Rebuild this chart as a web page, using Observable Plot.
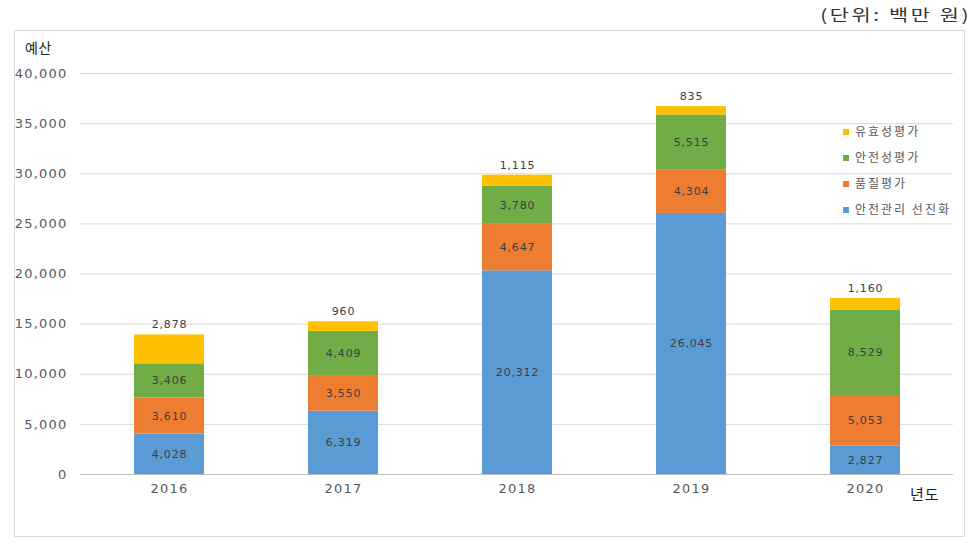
<!DOCTYPE html>
<html>
<head>
<meta charset="utf-8">
<script src="https://cdn.jsdelivr.net/npm/d3@7"></script>
<script src="https://cdn.jsdelivr.net/npm/@observablehq/plot@0.6"></script>
<style>
  body { margin: 0; background: #fff; font-family: "Noto Sans CJK KR", "Noto Sans", sans-serif; }
  #wrap { position: relative; width: 976px; height: 545px; overflow: hidden; }
  #wrap svg { position: absolute; left: 0; top: 0; }
  .box { position: absolute; left: 14px; top: 30px; width: 951px; height: 507px; border: 1px solid #d9d9d9; box-sizing: border-box; }
  .unit { position: absolute; right: 5px; top: 2px; font-size: 16px; letter-spacing: 2px; color: #333; transform: scaleX(1.3); transform-origin: right center; }
  .ylab { position: absolute; left: 25px; top: 37px; font-size: 14px; letter-spacing: 0.5px; color: #222; }
  .xlab { position: absolute; left: 910px; top: 483px; font-size: 15px; letter-spacing: 1px; color: #222; }
  .legend { position: absolute; left: 843px; top: 121px; font-size: 12px; letter-spacing: 2px; color: #595959; }
  .legend div { height: 26px; line-height: 20px; white-space: nowrap; }
  .legend span.sw { display: inline-block; width: 6px; height: 6px; margin-right: 6px; vertical-align: 1px; }
  g[aria-label="y-axis tick label"] text, g[aria-label="x-axis tick label"] text { letter-spacing: 1.2px; }
  .dlab text { letter-spacing: 0.8px; }
</style>
</head>
<body>
<div id="wrap">
  <div class="box"></div>
  <div class="unit">(단위: 백만 원)</div>
  <div class="ylab">예산</div>
  <div class="xlab">년도</div>
  <div class="legend" id="legend"></div>
</div>
<script>
const years = ["2016", "2017", "2018", "2019", "2020"];
const seriesNames = ["안전관리 선진화", "품질평가", "안전성평가", "유효성평가"];
const seriesColors = ["#5B9BD5", "#ED7D31", "#70AD47", "#FFC000"];
const safetyMgmt = [4028, 6319, 20312, 26045, 2827];
const quality = [3610, 3550, 4647, 4304, 5053];
const safety = [3406, 4409, 3780, 5515, 8529];
const efficacy = [2878, 960, 1115, 835, 1160];
const yTicks = [0, 5000, 10000, 15000, 20000, 25000, 30000, 35000, 40000];

const seriesValues = [safetyMgmt, quality, safety, efficacy];
const rows = [];
seriesValues.forEach((vals, s) => {
  years.forEach((yr, i) => rows.push({year: yr, series: seriesNames[s], value: vals[i]}));
});
const totals = years.map((yr, i) => seriesValues.reduce((a, v) => a + v[i], 0));
const fmt = d3.format(",");

const chart = Plot.plot({
  width: 976,
  height: 545,
  marginLeft: 80,
  marginRight: 23,
  marginTop: 73,
  marginBottom: 71,
  style: {fontFamily: "'DejaVu Sans', sans-serif", fontSize: "13px", color: "#595959", background: "transparent"},
  x: {domain: years, paddingInner: 0.6, paddingOuter: 0.3, label: null, tickSize: 0, tickPadding: 9},
  y: {domain: [0, 40000], ticks: yTicks, tickFormat: fmt, label: null, tickSize: 0, tickPadding: 13},
  color: {domain: seriesNames, range: seriesColors},
  marks: [
    Plot.ruleY(yTicks.slice(1), {stroke: "#d9d9d9"}),
    Plot.ruleY([0], {stroke: "#bfbfbf"}),
    Plot.barY(rows, Plot.stackY({x: "year", y: "value", fill: "series", order: seriesNames})),
    Plot.text(rows, Plot.stackY({
      x: "year", y: "value", z: "series", order: seriesNames,
      text: d => d.series === seriesNames[3] ? "" : fmt(d.value),
      fill: "#404040", fontSize: 11, className: "dlab"
    })),
    Plot.text(years, {
      x: d => d, y: (d, i) => totals[i],
      text: (d, i) => fmt(efficacy[i]),
      dy: -10, fill: "#404040", fontSize: 11, className: "dlab"
    })
  ]
});
document.getElementById("wrap").appendChild(chart);

const legend = document.getElementById("legend");
[3, 2, 1, 0].forEach(s => {
  const d = document.createElement("div");
  d.innerHTML = `<span class="sw" style="background:${seriesColors[s]}"></span>${seriesNames[s]}`;
  legend.appendChild(d);
});
</script>
</body>
</html>
